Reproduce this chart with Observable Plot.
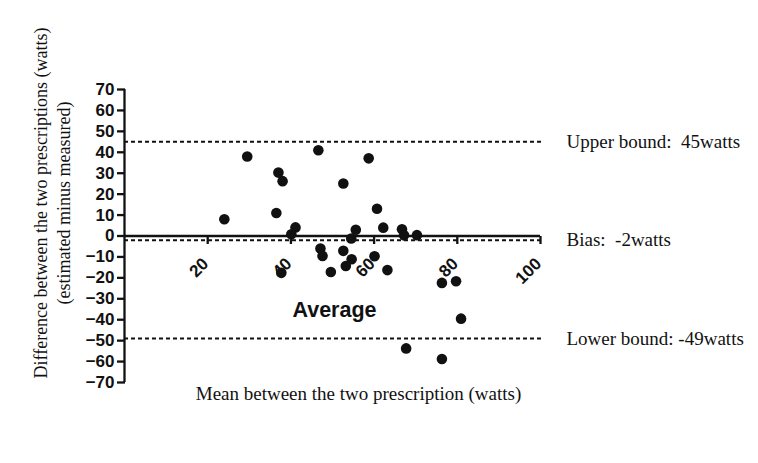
<!DOCTYPE html>
<html>
<head>
<meta charset="utf-8">
<script src="https://cdn.jsdelivr.net/npm/d3@7"></script>
<script src="https://cdn.jsdelivr.net/npm/@observablehq/plot@0.6"></script>
<style>
  html, body { margin: 0; padding: 0; background: #ffffff; }
  svg { display: block; }
</style>
</head>
<body>
<script>
// ---- data ----
const meanX = [24, 29.5, 46.6, 37, 38, 36.5, 41.1, 40.1, 47.1, 47.6, 37.7, 49.6,
               58.7, 52.6, 60.7, 62.2, 55.6, 54.5, 66.7, 67.2, 70.3, 52.6, 54.6,
               53.2, 60.1, 63.2, 76.3, 79.7, 80.9, 67.7, 76.3];
const diffY = [8, 38, 41, 30.3, 26.2, 11, 4.1, 0.8, -6, -9.5, -17.6, -17.2,
               37.1, 25.1, 13, 4, 3, -1.2, 3.2, 0.3, 0.4, -7.1, -11.1,
               -14.3, -9.7, -16.3, -22.4, -21.6, -39.5, -53.7, -58.8];
const xTicks = [20, 40, 60, 80, 100];
const yTicks = [70, 60, 50, 40, 30, 20, 10, 0, -10, -20, -30, -40, -50, -60, -70];
const limitValues = [45, -2, -49];
const limitLabels = ["Upper bound:\u00a0 45watts", "Bias:\u00a0 -2watts", "Lower bound: -49watts"];
const xAxisTitle = ["Mean between the two prescription (watts)"];
const xAxisInnerLabel = ["Average"];
const yAxisTitle = ["Difference between the two prescriptions (watts)\n(estimated minus measured)"];

const points = meanX.map((x, i) => ({x, y: diffY[i]}));
const limits = limitValues.map((v, i) => ({v, label: limitLabels[i]}));

const sans = "'Liberation Sans', Arial, sans-serif";
const serif = "'Liberation Serif', 'Times New Roman', serif";

// a short downward tick drawn as a custom symbol
const tickDown = {draw(context) { context.moveTo(0, 0); context.lineTo(0, 8); }};

const chart = Plot.plot({
  width: 758,
  height: 463,
  marginTop: 89,
  marginBottom: 81,
  marginLeft: 124,
  marginRight: 218,
  style: {background: "#ffffff", color: "#111", fontFamily: sans},
  x: {domain: [0, 100], axis: null},
  y: {domain: [-70, 70], axis: null},
  marks: [
    // limit lines
    Plot.ruleY(limits, {y: "v", x1: 0, x2: 100, stroke: "#111", strokeWidth: 2, strokeDasharray: "4,3", insetRight: -3}),
    // axes lines
    Plot.ruleX([0], {y1: -70, y2: 70, stroke: "#111", strokeWidth: 2.3}),
    Plot.ruleY([0], {x1: 0, x2: 100, stroke: "#111", strokeWidth: 2.5}),
    // y axis ticks + labels
    Plot.axisY(yTicks, {anchor: "left", tickSize: 8, tickPadding: 3, strokeWidth: 2.3,
      fontSize: 17, fontWeight: "bold", fontFamily: sans, label: null, dx: 1}),
    // x ticks at y = 0
    Plot.dot(xTicks, {x: d => d, y: 0, symbol: tickDown, stroke: "#111", strokeWidth: 2.3, fill: "none"}),
    Plot.text(xTicks, {x: d => d, y: 0, text: d => String(d), rotate: -45, textAnchor: "end",
      lineAnchor: "middle", dx: -2, dy: 25, fontSize: 17, fontWeight: "bold", fontFamily: sans, fill: "#111"}),
    // data points
    Plot.dot(points, {x: "x", y: "y", r: 5.3, fill: "#111", stroke: "none"}),
    // limit annotations
    Plot.text(limits, {x: 100, y: "v", text: "label", textAnchor: "start", dx: 26,
      fontSize: 19, fontFamily: serif, fill: "#111"}),
    // inner x label "Average"
    Plot.text(xAxisInnerLabel, {frameAnchor: "bottom", text: d => d, dx: 2, dy: -72,
      lineAnchor: "middle", fontSize: 21.5, fontWeight: "bold", fontFamily: sans, fill: "#111"}),
    // x axis title
    Plot.text(xAxisTitle, {frameAnchor: "bottom", text: d => d, dx: 26, dy: 11,
      lineAnchor: "middle", fontSize: 19, fontFamily: serif, fill: "#111"}),
    // y axis title
    Plot.text(yAxisTitle, {frameAnchor: "left", text: d => d, rotate: -90, textAnchor: "middle",
      lineAnchor: "middle", lineHeight: 1.27, dx: -73, dy: -33, fontSize: 18, fontFamily: serif, fill: "#111"})
  ]
});
document.body.appendChild(chart);
</script>
</body>
</html>
